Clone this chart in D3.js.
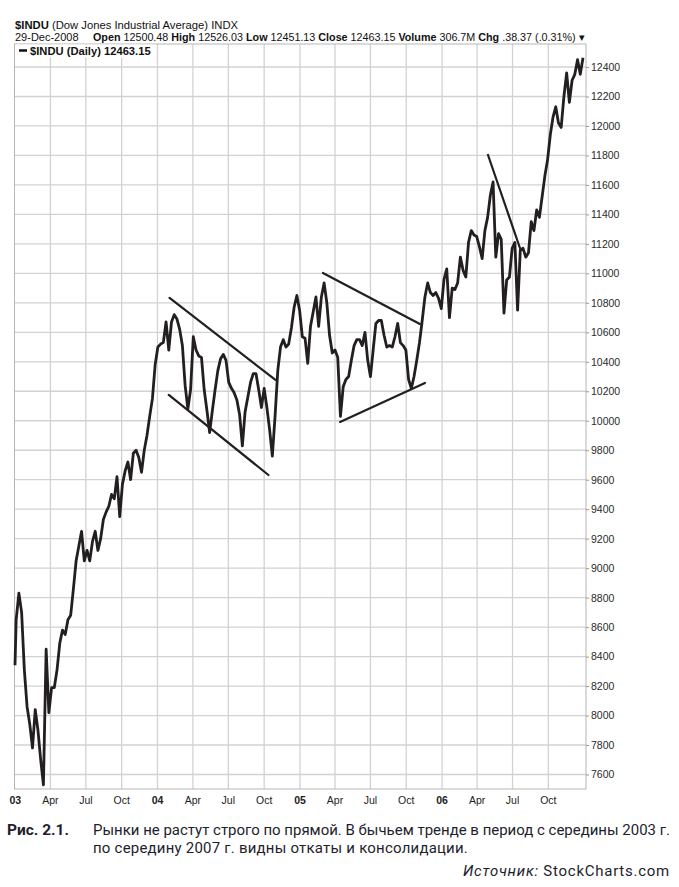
<!DOCTYPE html>
<html><head><meta charset="utf-8">
<script src="https://cdn.jsdelivr.net/npm/d3@7/dist/d3.min.js"></script>
<style>body{margin:0;background:#fff} svg{display:block}</style>
</head><body>
<svg id="c" width="679" height="887"></svg>
<script>
// ---- data (weekly closes, Fridays) ----
const startDate = "2002-12-31";
const startClose = 8341;
const close2003 = [8650,8830,8700,8310,8060,7940,7780,8040,7900,7700,7530,8450,8020,8190,8190,8310,8490,8580,8550,8650,8680,8860,9050,9150,9250,9050,9120,9050,9180,9250,9120,9200,9330,9380,9420,9500,9470,9620,9350,9570,9660,9720,9600,9780,9800,9750,9650,9800,9900,10030,10150,10380];
const close2004 = [10500,10520,10530,10670,10480,10670,10720,10690,10620,10510,10240,10080,10210,10570,10480,10440,10430,10210,10070,9920,10070,10210,10340,10420,10450,10410,10260,10220,10190,10140,10040,9830,10060,10160,10260,10320,10320,10210,10090,10220,10090,9940,9760,10030,10340,10500,10550,10500,10520,10630,10770,10850,10750];
const close2005 = [10570,10560,10390,10640,10740,10840,10640,10840,10935,10800,10580,10460,10480,10430,10030,10230,10280,10300,10410,10510,10550,10550,10510,10600,10410,10300,10480,10660,10680,10680,10580,10500,10510,10500,10570,10660,10530,10510,10480,10280,10220,10300,10410,10530,10680,10840,10935,10870,10850,10870,10830,10760];
const close2006 = [10960,11030,10700,10900,10890,10935,11110,11020,10975,11210,11290,11260,11250,11180,11100,11290,11380,11530,11620,11110,11270,11230,10730,10955,10975,11170,11210,10750,11160,11170,11110,11140,11350,11290,11430,11380,11520,11660,11770,11940,12060,12130,12020,11990,12200,12360,12160,12310,12350,12450,12350,12463.15];

const yTickValues = [7600,7800,8000,8200,8400,8600,8800,9000,9200,9400,9600,9800,10000,10200,10400,10600,10800,11000,11200,11400,11600,11800,12000,12200,12400];
const xTickDates = ["2003-01-01","2003-04-01","2003-07-01","2003-10-01","2004-01-01","2004-04-01","2004-07-01","2004-10-01","2005-01-01","2005-04-01","2005-07-01","2005-10-01","2006-01-01","2006-04-01","2006-07-01","2006-10-01"];
const xTickLabels = ["03","Apr","Jul","Oct","04","Apr","Jul","Oct","05","Apr","Jul","Oct","06","Apr","Jul","Oct"];

// trend lines drawn on the chart
const trendStartDates = ["2004-02-01","2004-01-30","2005-03-01","2005-04-14","2006-04-29"];
const trendStartValues = [10833,10175,11003,9992,11803];
const trendEndDates = ["2004-10-30","2004-10-12","2005-11-05","2005-11-18","2006-07-20"];
const trendEndValues = [10277,9632,10657,10256,11172];

const headerTitle = ["$INDU", " (Dow Jones Industrial Average) INDX"];
const headerDate = "29-Dec-2008";
const headerQuote = [["Open"," 12500.48 "],["High"," 12526.03 "],["Low"," 12451.13 "],["Close"," 12463.15 "],["Volume"," 306.7M "],["Chg"," .38.37 (.0.31%) ▾"]];
const legendText = "$INDU (Daily) 12463.15";
const captionLabel = "Рис. 2.1.";
const captionLines = ["Рынки не растут строго по прямой. В бычьем тренде в период с середины 2003 г.","по середину 2007 г. видны откаты и консолидации."];
const sourceLabel = ["Источник:", " StockCharts.com"];

// ---- build ----
const parse = d3.timeParse("%Y-%m-%d");
const fridays = d3.timeFriday.range(parse("2003-01-03"), parse("2006-12-30"));
const closes = [].concat(close2003, close2004, close2005, close2006);
const series = [{date: parse(startDate), v: startClose}].concat(fridays.map((d,i)=>({date:d, v:closes[i]})));

const svg = d3.select("#c");
const P = {left:14.5, right:586, top:44, bottom:789};
const x = d3.scaleTime().domain([parse("2002-12-31"), parse("2006-12-29")]).range([15, 583]);
const y = d3.scaleLinear().domain([7600, 12400]).range([774.5, 67]);
const sans = "Liberation Sans, Arial, sans-serif";

const grid = svg.append("g");
grid.selectAll("line.h").data(yTickValues).join("line")
  .attr("x1", P.left).attr("x2", P.right).attr("y1", d=>y(d)).attr("y2", d=>y(d))
  .attr("stroke", "#d2d2d2").attr("stroke-width", 1.3);
grid.selectAll("line.v").data(xTickDates.slice(1)).join("line")
  .attr("x1", d=>x(parse(d))).attr("x2", d=>x(parse(d))).attr("y1", P.top).attr("y2", P.bottom)
  .attr("stroke", "#d2d2d2").attr("stroke-width", 1.3);

svg.append("rect").attr("x", P.left).attr("y", P.top).attr("width", P.right-P.left).attr("height", P.bottom-P.top)
  .attr("fill", "none").attr("stroke", "#b5b5b5").attr("stroke-width", 1);

// right axis
const ax = svg.append("g").attr("transform", `translate(${P.right},0)`)
  .call(d3.axisRight(y).tickValues(yTickValues).tickSize(3).tickPadding(2).tickFormat(d3.format("d")));
ax.select(".domain").remove();
ax.selectAll("line").attr("stroke", "#999");
ax.selectAll("text").attr("font-family", sans).attr("font-size", 10.5).attr("fill", "#2a2a2a");

// x labels
svg.append("g").selectAll("text").data(xTickDates).join("text")
  .attr("x", d=>x(parse(d))).attr("y", 804).attr("text-anchor", "middle")
  .attr("font-family", sans).attr("font-size", 10.5).attr("fill", "#222")
  .attr("font-weight", (d,i)=>xTickLabels[i].length===2 ? "bold" : "normal")
  .text((d,i)=>xTickLabels[i]);

// price line
svg.append("path").datum(series)
  .attr("d", d3.line().x(d=>x(d.date)).y(d=>y(d.v)))
  .attr("fill", "none").attr("stroke", "#231f20").attr("stroke-width", 2.8)
  .attr("stroke-linejoin", "round");

// trend lines
svg.append("g").selectAll("line").data(trendStartDates).join("line")
  .attr("x1", d=>x(parse(d))).attr("y1", (d,i)=>y(trendStartValues[i]))
  .attr("x2", (d,i)=>x(parse(trendEndDates[i]))).attr("y2", (d,i)=>y(trendEndValues[i]))
  .attr("stroke", "#231f20").attr("stroke-width", 2.2).attr("stroke-linecap", "round");

// legend box
svg.append("rect").attr("x", 15.5).attr("y", 44.5).attr("width", 140).attr("height", 13).attr("fill", "#fff");
svg.append("line").attr("x1", 19).attr("x2", 27).attr("y1", 50.5).attr("y2", 50.5).attr("stroke", "#111").attr("stroke-width", 2.5);
svg.append("text").attr("x", 30).attr("y", 54.5).attr("font-family", sans)
  .attr("font-size", 11.2).attr("font-weight", "bold").attr("fill", "#111").text(legendText);

// header
const h1 = svg.append("text").attr("x", 15).attr("y", 28.5).attr("font-family", sans).attr("font-size", 11.25).attr("fill", "#111");
h1.append("tspan").attr("font-weight", "bold").text(headerTitle[0]);
h1.append("tspan").text(headerTitle[1]);
svg.append("text").attr("x", 15).attr("y", 40.5).attr("font-family", sans).attr("font-size", 11).attr("fill", "#111").text(headerDate);
const h2 = svg.append("text").attr("x", 93).attr("y", 40.5).attr("font-family", sans).attr("font-size", 10.75).attr("fill", "#111");
headerQuote.forEach(([k,v])=>{ h2.append("tspan").attr("font-weight","bold").text(k); h2.append("tspan").text(v); });

// caption
const capFont = "Roboto, 'Noto Sans', sans-serif";
const capColor = "#1e1e2c";
svg.append("text").attr("x", 7).attr("y", 835).attr("font-family", capFont).attr("font-size", 15.5).attr("font-weight", "bold").attr("fill", capColor).text(captionLabel);
const c1 = svg.append("text").attr("x", 93).attr("y", 835).attr("font-family", capFont).attr("font-size", 15.5).attr("fill", capColor).text(captionLines[0]);
const fs = 15.5 * 577 / c1.node().getComputedTextLength();
c1.attr("font-size", fs);
function fitSpacing(sel, target, nChars){
  const w = sel.node().getComputedTextLength();
  sel.attr("letter-spacing", ((target - w) / nChars).toFixed(3));
}
const c2 = svg.append("text").attr("x", 93).attr("y", 853).attr("font-family", capFont).attr("font-size", fs).attr("fill", capColor).text(captionLines[1]);
fitSpacing(c2, 375, captionLines[1].length);
const s = svg.append("text").attr("x", 670).attr("y", 876).attr("text-anchor", "end").attr("font-family", capFont).attr("font-size", fs).attr("fill", capColor);
s.append("tspan").attr("font-style", "italic").text(sourceLabel[0]);
s.append("tspan").text(sourceLabel[1]);
fitSpacing(s, 207, (sourceLabel[0] + sourceLabel[1]).length);
</script>
</body></html>
